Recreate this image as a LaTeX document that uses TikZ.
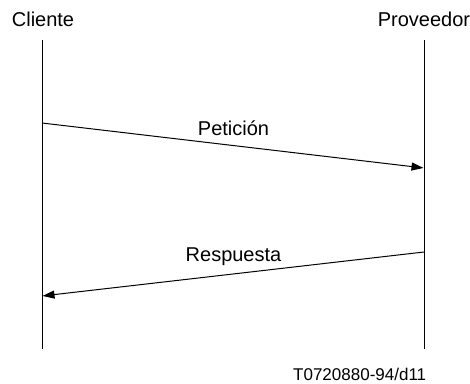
\documentclass[tikz,border=0pt]{standalone}
\usepackage{fontspec}
\setmainfont{Liberation Sans}
\usetikzlibrary{arrows.meta}
\begin{document}
\begin{tikzpicture}[x=1pt,y=-1pt,
  lbl/.style={font=\fontsize{20}{24}\selectfont, inner sep=0pt, anchor=base},
  foot/.style={font=\fontsize{17}{20}\selectfont, inner sep=0pt, anchor=base west},
  life/.style={line width=1pt},
  msg/.style={line width=1pt, -{Triangle[length=12pt,width=8pt]}, shorten >=0.5pt}]
\useasboundingbox (0,0) rectangle (470,383);
\node[lbl] (cl) at (43,26) {Cliente};
\node[lbl] (pr) at (424,26) {Proveedor};
\coordinate (clt) at (42,40);
\coordinate (clb) at (42,349);
\coordinate (prt) at (424,40);
\coordinate (prb) at (424,349);
\draw[life] (clt) -- (clb);
\draw[life] (prt) -- (prb);
\coordinate (a1) at (42,123);
\coordinate (b1) at (424,168);
\coordinate (a2) at (424,252);
\coordinate (b2) at (42,296);
\draw[msg] (a1) -- (b1);
\draw[msg] (a2) -- (b2);
\node[lbl] (pet) at (233.5,135) {Petición};
\node[lbl] (res) at (233.5,261) {Respuesta};
\node[foot] (ref) at (293,380) {T0720880-94/d11};
\end{tikzpicture}
\end{document}
